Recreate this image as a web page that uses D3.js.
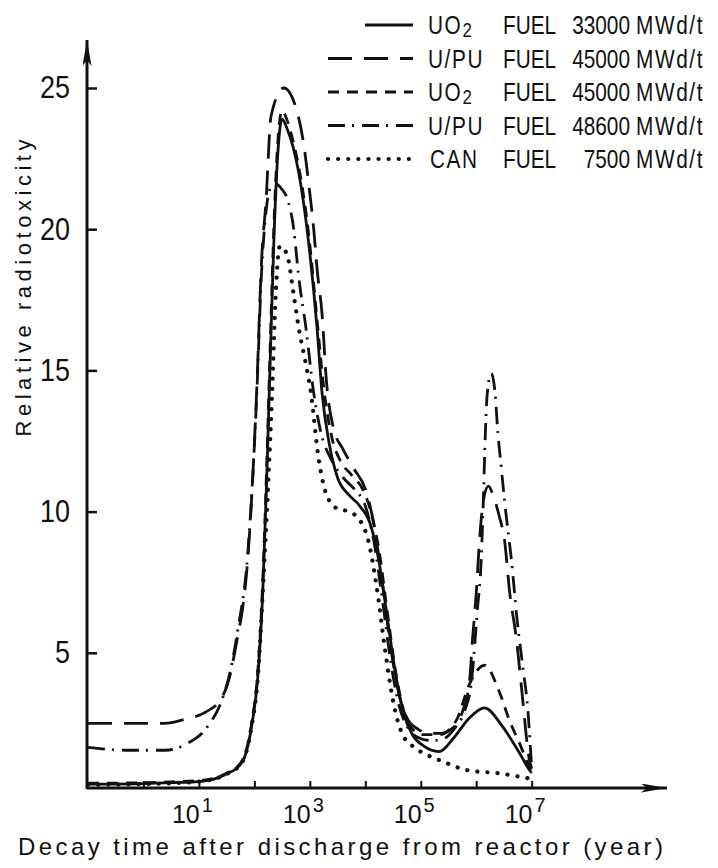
<!DOCTYPE html>
<html>
<head>
<meta charset="utf-8">
<script src="https://cdn.jsdelivr.net/npm/d3@7"></script>
<style>
body { margin: 0; background: #fff; }
text { font-family: "Liberation Sans", Arial, sans-serif; fill: #111; }
</style>
</head>
<body>
<div id="chart"></div>
<script>
// [log10(decay time in years), relative radiotoxicity]
const uo2_33000 = [[-1,0.35],[0,0.37],[0.5,0.4],[1.05,0.45],[1.46,0.67],[1.77,1.1],[1.95,2.4],[2.06,4.1],[2.15,7.1],[2.22,11],[2.28,15],[2.35,19.5],[2.42,22.6],[2.5,23.9],[2.6,23.5],[2.7,22.9],[2.8,22.0],[2.98,19.5],[3.13,16.5],[3.22,14.2],[3.35,12.4],[3.5,11.2],[3.7,10.6],[3.9,10.2],[4.1,9.5],[4.25,8.2],[4.4,6.2],[4.55,4.2],[4.7,2.8],[4.85,2.1],[5.05,1.7],[5.33,1.5],[5.6,2.0],[5.88,2.7],[6.15,3.05],[6.47,2.4],[6.78,1.45],[6.96,0.85],[7.0,0.75]];
const upu_45000 = [[-1,2.5],[0,2.5],[0.38,2.5],[0.75,2.65],[1.12,2.9],[1.41,3.4],[1.56,4.2],[1.70,5.6],[1.79,6.6],[1.88,8.3],[2.04,14.2],[2.13,18.9],[2.21,21],[2.3,24],[2.53,25],[2.75,24.3],[2.89,23],[2.98,21.6],[3.07,20],[3.13,18.6],[3.22,17],[3.3,14.6],[3.42,13.0],[3.6,12.2],[3.8,11.5],[4.0,10.8],[4.15,9.6],[4.3,7.6],[4.45,5.3],[4.6,3.6],[4.75,2.7],[4.95,2.3],[5.15,2.15],[5.35,2.15],[5.55,2.3],[5.75,2.9],[5.88,4.0],[5.93,5.4],[6.0,7.1],[6.06,9.0],[6.13,10.4],[6.22,10.9],[6.3,10.6],[6.42,9.8],[6.51,9.0],[6.6,7.2],[6.73,5.4],[6.82,3.7],[6.96,1.2],[7.0,0.9]];
const uo2_45000 = [[-1,0.38],[0,0.4],[0.5,0.43],[1.05,0.48],[1.46,0.7],[1.77,1.15],[1.95,2.5],[2.06,4.3],[2.15,7.5],[2.22,11.5],[2.28,15.5],[2.35,20],[2.42,23],[2.5,24.2],[2.6,23.8],[2.7,23.1],[2.8,22.2],[2.98,19.8],[3.13,16.8],[3.25,14.4],[3.4,12.6],[3.55,11.8],[3.75,11.3],[3.95,10.8],[4.1,10.0],[4.25,8.6],[4.4,6.4],[4.55,4.3],[4.7,2.9],[4.85,2.3],[5.05,2.1],[5.33,2.1],[5.64,2.6],[5.88,3.9],[6.15,4.56],[6.42,3.6],[6.6,2.6],[6.78,1.8],[6.96,0.95],[7.0,0.8]];
const upu_48600 = [[-1,1.65],[-0.3,1.55],[0.4,1.55],[0.75,1.75],[1.16,2.4],[1.41,3.3],[1.56,4.3],[1.7,5.8],[1.88,8.5],[2.04,14],[2.13,18.5],[2.22,20.8],[2.3,21.5],[2.39,21.6],[2.5,21.4],[2.59,21.1],[2.71,20],[2.80,18.3],[2.93,16.5],[3.07,14.2],[3.2,12.8],[3.4,11.8],[3.6,11.2],[3.8,10.8],[4.0,10.2],[4.15,9.0],[4.3,7.0],[4.45,4.8],[4.6,3.2],[4.75,2.4],[4.95,2.0],[5.15,1.9],[5.33,1.9],[5.6,2.3],[5.8,3.0],[5.91,3.9],[6.02,6.5],[6.09,8.3],[6.13,10.5],[6.16,12.5],[6.2,14.2],[6.27,14.9],[6.34,14.2],[6.39,12.8],[6.45,11.6],[6.51,10.4],[6.65,8.0],[6.73,6.3],[6.84,4.5],[6.93,3.0],[7.0,0.9]];
const can_7500 = [[-1,0.33],[0,0.35],[0.5,0.38],[1.05,0.45],[1.46,0.67],[1.77,1.1],[1.95,2.4],[2.06,4.1],[2.15,7.1],[2.25,11],[2.32,14.2],[2.38,17.5],[2.46,19.4],[2.59,19.1],[2.7,17.8],[2.80,16.5],[2.92,15.3],[3.02,14.2],[3.15,12],[3.3,10.6],[3.5,10.1],[3.7,10.0],[3.9,9.7],[4.05,9.0],[4.2,7.4],[4.35,5.2],[4.5,3.3],[4.65,2.2],[4.85,1.7],[5.1,1.4],[5.4,1.15],[5.82,0.85],[6.42,0.73],[6.96,0.55]];

const fuelNames = ["UO", "U/PU", "UO", "U/PU", "CAN"];
const fuelSubs = ["2", "", "2", "", ""];
const burnups = ["33000", "45000", "45000", "48600", "7500"];
const xTickExps = [0, 1, 2, 3, 4, 5, 6, 7];
const xLabelExps = [1, 3, 5, 7];
const yTicks = [5, 10, 15, 20, 25];

const width = 718, height = 868;

const svg = d3.select("#chart").append("svg")
    .attr("width", width)
    .attr("height", height);

// scales: 10^-1 sits on the y axis, 10^7 where the curves stop
const x = d3.scaleLog().domain([1e-1, Math.pow(10, 9.44)]).range([88, 667]);
const y = d3.scaleLinear().domain([0, 25]).range([794, 88]);
const axisY = 788, axisX = 87;

const lines = [
    { data: uo2_33000, dash: null, w: 2.8 },
    { data: upu_45000, dash: "24,12", w: 2.8 },
    { data: uo2_45000, dash: "11,8", w: 2.8 },
    { data: upu_48600, dash: "17,7,2,8", w: 2.8 },
    { data: can_7500, dash: "0.1,10", w: 4.2 }
];

const line = d3.line()
    .x(d => x(Math.pow(10, d[0])))
    .y(d => y(d[1]))
    .curve(d3.curveMonotoneX);

// arrow heads
svg.append("defs").append("marker")
    .attr("id", "arrow")
    .attr("viewBox", "0 0 26 9")
    .attr("refX", 26).attr("refY", 4.5)
    .attr("markerWidth", 26).attr("markerHeight", 9)
    .attr("markerUnits", "userSpaceOnUse")
    .attr("orient", "auto")
    .append("path")
    .attr("d", "M0,0 L26,4.5 L0,9 L6,4.5 Z")
    .attr("fill", "#111");

// x axis
const xAxis = svg.append("g")
    .attr("transform", `translate(0, ${axisY})`)
    .call(d3.axisBottom(x)
        .tickValues(xTickExps.map(e => Math.pow(10, e)))
        .tickSizeInner(-7)
        .tickSizeOuter(0)
        .tickFormat(""));
xAxis.select(".domain").remove();
xAxis.selectAll(".tick line").attr("stroke", "#111").attr("stroke-width", 2);

svg.append("line")
    .attr("x1", axisX).attr("y1", axisY)
    .attr("x2", x(Math.pow(10, 9.44))).attr("y2", axisY)
    .attr("stroke", "#111").attr("stroke-width", 3)
    .attr("marker-end", "url(#arrow)");

// decade labels, 10 with a raised exponent
const xLabels = svg.append("g").selectAll("text")
    .data(xLabelExps)
    .enter().append("text")
    .attr("x", d => x(Math.pow(10, d)) - 27)
    .attr("y", 823)
    .style("font-size", "25px");
xLabels.append("tspan").text("10");
xLabels.append("tspan")
    .attr("dx", 2).attr("dy", -11)
    .style("font-size", "20px")
    .text(d => d);

// y axis
const yAxis = svg.append("g")
    .attr("transform", `translate(${axisX}, 0)`)
    .call(d3.axisLeft(y)
        .tickValues(yTicks)
        .tickSizeInner(-10)
        .tickSizeOuter(0)
        .tickPadding(17));
yAxis.select(".domain").remove();
yAxis.selectAll(".tick line").attr("stroke", "#111").attr("stroke-width", 2.5);
yAxis.selectAll(".tick text")
    .style("font-size", "31px")
    .style("font-family", "'Liberation Sans', Arial, sans-serif")
    .attr("fill", "#111")
    .attr("textLength", d => String(d).length * 15)
    .attr("lengthAdjust", "spacingAndGlyphs");

svg.append("line")
    .attr("x1", axisX).attr("y1", axisY + 1)
    .attr("x2", axisX).attr("y2", 40)
    .attr("stroke", "#111").attr("stroke-width", 3)
    .attr("marker-end", "url(#arrow)");

// axis titles
svg.append("text")
    .attr("transform", "translate(31, 288) rotate(-90)")
    .attr("text-anchor", "middle")
    .attr("textLength", 297)
    .attr("lengthAdjust", "spacing")
    .style("font-size", "22px")
    .text("Relative radiotoxicity");

svg.append("text")
    .attr("x", 18).attr("y", 855)
    .attr("textLength", 645)
    .attr("lengthAdjust", "spacing")
    .style("font-size", "24px")
    .text("Decay time  after discharge  from  reactor (year)");

// curves
svg.append("g").selectAll("path")
    .data(lines)
    .enter().append("path")
    .attr("d", d => line(d.data))
    .attr("fill", "none")
    .attr("stroke", "#111")
    .attr("stroke-width", d => d.w)
    .attr("stroke-linecap", (d, i) => i === 4 ? "round" : "butt")
    .attr("stroke-dasharray", d => d.dash);

// legend: one text per row, glyphs squeezed to the narrow lettering
const rowY = i => 25 + i * 33.5;
const sx = 0.8;
const legend = svg.append("g").selectAll("g")
    .data(lines)
    .enter().append("g")
    .attr("transform", (d, i) => `translate(0, ${rowY(i)})`);

legend.append("line")
    .attr("x1", (d, i) => i === 0 ? 365 : 328)
    .attr("x2", 413)
    .attr("y1", 0).attr("y2", 0)
    .attr("stroke", "#111")
    .attr("stroke-width", d => d.w)
    .attr("stroke-linecap", (d, i) => i === 4 ? "round" : "butt")
    .attr("stroke-dasharray", d => d.dash);

const rowText = legend.append("text")
    .attr("transform", `scale(${sx}, 1)`)
    .attr("y", 9)
    .style("font-size", "26px");

rowText.append("tspan")
    .attr("x", (d, i) => (i === 4 ? 430 : 428) / sx)
    .style("letter-spacing", "2px")
    .text((d, i) => fuelNames[i]);
rowText.append("tspan")
    .attr("dy", 3)
    .style("font-size", "21px")
    .text((d, i) => fuelSubs[i]);
rowText.append("tspan")
    .attr("x", 503 / sx)
    .attr("y", 9)
    .text("FUEL");
rowText.append("tspan")
    .attr("x", 630 / sx)
    .attr("text-anchor", "end")
    .text((d, i) => burnups[i]);
rowText.append("tspan")
    .attr("x", 636 / sx)
    .style("letter-spacing", "2px")
    .text("MWd/t");
</script>
</body>
</html>
